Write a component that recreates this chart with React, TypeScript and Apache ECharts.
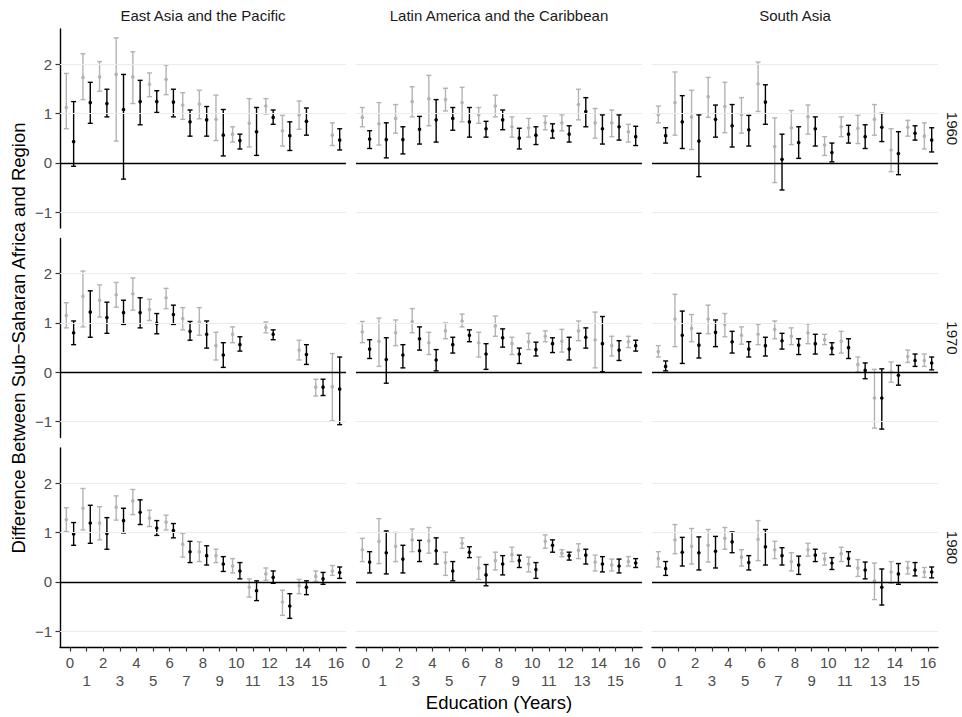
import React, { useEffect, useRef } from 'react';
import * as echarts from 'echarts';

type Est = [number, number, number] | null; // [estimate, lower, upper]

const educationYears = [0, 1, 2, 3, 4, 5, 6, 7, 8, 9, 10, 11, 12, 13, 14, 15, 16];
const regions = ['East Asia and the Pacific', 'Latin America and the Caribbean', 'South Asia'];
const cohorts = ['1960', '1970', '1980'];
const yTickValues = [-1, 0, 1, 2];
const gridLineValues = [-1, 1, 2];
const yAxisTitle = 'Difference Between Sub\u2212Saharan Africa and Region';
const xAxisTitle = 'Education (Years)';

// ---- 1960 ----
const eastAsia1960Grey: Est[] = [
  [1.12, 0.69, 1.81], [1.73, 1.28, 2.21], [1.74, 1.45, 2.05], [1.79, 0.44, 2.53], [1.74, 1.2, 2.25],
  [1.59, 1.34, 1.82], [1.69, 1.38, 1.98], [1.17, 0.88, 1.42], [1.19, 0.89, 1.47], [0.88, 0.45, 1.37],
  [0.58, 0.42, 0.73], [0.8, 0.32, 1.3], [1.15, 0.99, 1.3], [0.65, 0.34, 0.96], [0.97, 0.68, 1.25],
  null, [0.56, 0.35, 0.81],
];
const eastAsia1960Black: Est[] = [
  [0.43, -0.07, 1.24], [1.22, 0.8, 1.63], [1.2, 0.93, 1.49], [1.08, -0.33, 1.79], [1.24, 0.77, 1.67],
  [1.24, 1.02, 1.46], [1.23, 0.93, 1.49], [0.83, 0.54, 1.07], [0.87, 0.54, 1.14], [0.56, 0.14, 1.08],
  [0.45, 0.28, 0.58], [0.63, 0.15, 1.12], [0.92, 0.78, 1.07], [0.55, 0.25, 0.83], [0.84, 0.56, 1.11],
  null, [0.46, 0.26, 0.69],
];
const latinAmerica1960Grey: Est[] = [
  [0.92, 0.73, 1.12], [0.79, 0.36, 1.22], [0.9, 0.6, 1.18], [1.24, 0.93, 1.54], [1.3, 0.75, 1.77],
  [1.28, 1.05, 1.51], [1.22, 0.83, 1.53], [0.97, 0.8, 1.12], [1.15, 0.93, 1.37], [0.73, 0.52, 0.93],
  [0.71, 0.52, 0.9], [0.81, 0.67, 0.95], [0.81, 0.65, 0.97], [1.18, 0.87, 1.49], [0.81, 0.5, 1.1],
  [0.81, 0.53, 1.07], [0.63, 0.42, 0.78],
];
const latinAmerica1960Black: Est[] = [
  [0.48, 0.29, 0.65], [0.47, 0.1, 0.81], [0.47, 0.18, 0.73], [0.68, 0.38, 0.94], [0.87, 0.42, 1.28],
  [0.9, 0.66, 1.12], [0.83, 0.52, 1.12], [0.69, 0.52, 0.84], [0.87, 0.67, 1.07], [0.5, 0.28, 0.7],
  [0.56, 0.37, 0.73], [0.65, 0.5, 0.79], [0.58, 0.42, 0.75], [1.04, 0.73, 1.32], [0.69, 0.38, 0.97],
  [0.73, 0.46, 0.97], [0.53, 0.35, 0.74],
];
const southAsia1960Grey: Est[] = [
  [0.98, 0.81, 1.15], [1.22, 0.56, 1.84], [0.93, 0.27, 1.47], [1.34, 0.92, 1.73], [1.14, 0.61, 1.63],
  [0.98, 0.6, 1.32], [1.6, 1.04, 2.04], [0.33, -0.4, 0.91], [0.71, 0.37, 1.06], [0.93, 0.58, 1.17],
  [0.36, 0.15, 0.53], [0.73, 0.53, 0.93], [0.7, 0.39, 0.96], [0.88, 0.56, 1.18], [0.26, -0.18, 0.69],
  [0.72, 0.54, 0.86], [0.54, 0.28, 0.81],
];
const southAsia1960Black: Est[] = [
  [0.55, 0.4, 0.71], [0.83, 0.29, 1.36], [0.44, -0.28, 0.97], [0.88, 0.52, 1.17], [0.75, 0.32, 1.18],
  [0.67, 0.34, 0.96], [1.23, 0.78, 1.58], [0.07, -0.55, 0.58], [0.41, 0.09, 0.73], [0.69, 0.34, 0.93],
  [0.21, 0.02, 0.4], [0.58, 0.4, 0.76], [0.53, 0.29, 0.77], [0.72, 0.43, 1.0], [0.19, -0.24, 0.63],
  [0.6, 0.46, 0.75], [0.46, 0.22, 0.71],
];

// ---- 1970 ----
const eastAsia1970Grey: Est[] = [
  [1.15, 0.9, 1.41], [1.54, 0.92, 2.05], [1.46, 1.12, 1.77], [1.57, 1.32, 1.82], [1.59, 1.26, 1.91],
  [1.27, 1.05, 1.48], [1.51, 1.29, 1.7], [1.09, 0.86, 1.31], [1.02, 0.75, 1.31], [0.54, 0.25, 0.81],
  [0.77, 0.6, 0.92], null, [0.91, 0.8, 1.02], null, [0.45, 0.25, 0.65],
  [-0.3, -0.48, -0.14], [-0.29, -0.98, 0.38],
];
const eastAsia1970Black: Est[] = [
  [0.8, 0.56, 1.04], [1.22, 0.71, 1.65], [1.11, 0.79, 1.42], [1.21, 0.97, 1.46], [1.21, 0.9, 1.51],
  [0.99, 0.78, 1.19], [1.17, 0.97, 1.36], [0.83, 0.65, 1.03], [0.77, 0.49, 1.04], [0.35, 0.1, 0.6],
  [0.56, 0.43, 0.72], null, [0.77, 0.66, 0.86], null, [0.36, 0.16, 0.56],
  [-0.3, -0.47, -0.14], [-0.34, -1.06, 0.31],
];
const latinAmerica1970Grey: Est[] = [
  [0.82, 0.6, 1.03], [0.63, 0.12, 1.1], [0.8, 0.54, 1.06], [1.03, 0.8, 1.29], [0.6, 0.36, 0.81],
  [0.84, 0.68, 1.0], [1.04, 0.92, 1.18], [0.6, 0.31, 0.81], [0.94, 0.73, 1.14], [0.58, 0.36, 0.71],
  [0.62, 0.46, 0.79], [0.73, 0.62, 0.84], [0.63, 0.41, 0.87], [0.84, 0.64, 1.04], [0.66, 0.09, 1.22],
  [0.54, 0.33, 0.73], [0.62, 0.5, 0.73],
];
const latinAmerica1970Black: Est[] = [
  [0.47, 0.28, 0.66], [0.26, -0.22, 0.7], [0.35, 0.09, 0.56], [0.68, 0.45, 0.92], [0.25, 0.03, 0.46],
  [0.56, 0.39, 0.71], [0.75, 0.62, 0.86], [0.37, 0.06, 0.58], [0.7, 0.51, 0.88], [0.37, 0.18, 0.49],
  [0.46, 0.33, 0.61], [0.58, 0.4, 0.7], [0.47, 0.25, 0.71], [0.71, 0.49, 0.9], [0.58, 0.01, 1.13],
  [0.45, 0.24, 0.64], [0.54, 0.43, 0.65],
];
const southAsia1970Grey: Est[] = [
  [0.42, 0.31, 0.54], [1.08, 0.52, 1.58], [0.89, 0.62, 1.17], [1.08, 0.78, 1.36], [0.97, 0.72, 1.19],
  [0.75, 0.57, 0.92], [0.77, 0.56, 0.97], [0.87, 0.68, 1.04], [0.73, 0.56, 0.9], [0.8, 0.58, 0.98],
  [0.66, 0.56, 0.77], [0.63, 0.39, 0.83], [0.16, 0.01, 0.31], [-0.52, -1.13, 0.06], [0.01, -0.2, 0.21],
  [0.32, 0.2, 0.45], [0.24, 0.12, 0.37],
];
const southAsia1970Black: Est[] = [
  [0.12, 0.03, 0.23], [0.75, 0.18, 1.24], [0.55, 0.29, 0.79], [0.81, 0.52, 1.06], [0.62, 0.39, 0.83],
  [0.47, 0.31, 0.62], [0.54, 0.33, 0.71], [0.64, 0.47, 0.79], [0.55, 0.36, 0.68], [0.58, 0.37, 0.77],
  [0.49, 0.36, 0.6], [0.5, 0.28, 0.68], [0.04, -0.13, 0.19], [-0.52, -1.15, 0.07], [-0.06, -0.26, 0.14],
  [0.24, 0.12, 0.37], [0.19, 0.05, 0.31],
];

// ---- 1980 ----
const eastAsia1980Grey: Est[] = [
  [1.26, 1.02, 1.5], [1.49, 1.05, 1.89], [1.19, 0.85, 1.52], [1.51, 1.25, 1.74], [1.64, 1.36, 1.87],
  [1.29, 1.12, 1.45], [1.21, 1.05, 1.35], [0.76, 0.5, 0.98], [0.61, 0.41, 0.81], [0.53, 0.39, 0.66],
  [0.32, 0.18, 0.47], [-0.11, -0.31, 0.06], [0.16, 0.03, 0.28], [-0.41, -0.68, -0.17], [-0.08, -0.24, 0.05],
  [0.11, 0.01, 0.22], [0.22, 0.13, 0.33],
];
const eastAsia1980Black: Est[] = [
  [0.97, 0.74, 1.2], [1.19, 0.78, 1.55], [0.98, 0.66, 1.3], [1.24, 0.99, 1.49], [1.41, 1.16, 1.66],
  [1.09, 0.94, 1.24], [1.04, 0.89, 1.18], [0.61, 0.39, 0.82], [0.53, 0.34, 0.73], [0.36, 0.21, 0.51],
  [0.22, 0.06, 0.39], [-0.18, -0.38, 0.02], [0.09, -0.03, 0.22], [-0.49, -0.74, -0.24], [-0.11, -0.26, 0.02],
  [0.06, -0.05, 0.19], [0.19, 0.07, 0.3],
];
const latinAmerica1980Grey: Est[] = [
  [0.65, 0.41, 0.88], [0.82, 0.37, 1.28], [0.72, 0.41, 1.0], [0.85, 0.61, 1.07], [0.83, 0.58, 1.1],
  [0.39, 0.13, 0.6], [0.78, 0.68, 0.89], [0.28, 0.05, 0.5], [0.43, 0.24, 0.6], [0.55, 0.41, 0.7],
  [0.36, 0.2, 0.5], [0.82, 0.68, 0.95], [0.58, 0.51, 0.65], [0.64, 0.47, 0.77], [0.4, 0.22, 0.54],
  [0.34, 0.22, 0.46], [0.41, 0.32, 0.51],
];
const latinAmerica1980Black: Est[] = [
  [0.4, 0.18, 0.61], [0.59, 0.16, 1.03], [0.46, 0.18, 0.74], [0.63, 0.41, 0.84], [0.63, 0.36, 0.89],
  [0.22, 0.02, 0.41], [0.6, 0.49, 0.71], [0.14, -0.08, 0.35], [0.36, 0.14, 0.53], [0.43, 0.29, 0.54],
  [0.25, 0.07, 0.39], [0.74, 0.6, 0.85], [0.53, 0.44, 0.6], [0.54, 0.36, 0.66], [0.36, 0.2, 0.51],
  [0.32, 0.18, 0.46], [0.38, 0.29, 0.47],
];
const southAsia1980Grey: Est[] = [
  [0.47, 0.3, 0.61], [0.85, 0.57, 1.16], [0.72, 0.36, 1.08], [0.74, 0.4, 1.06], [0.88, 0.66, 1.1],
  [0.5, 0.32, 0.65], [0.86, 0.43, 1.24], [0.65, 0.47, 0.82], [0.41, 0.22, 0.59], [0.65, 0.52, 0.78],
  [0.46, 0.34, 0.58], [0.57, 0.41, 0.7], [0.28, 0.11, 0.45], [0.02, -0.36, 0.38], [0.2, -0.03, 0.41],
  [0.28, 0.16, 0.41], [0.2, 0.09, 0.29],
];
const southAsia1980Black: Est[] = [
  [0.27, 0.13, 0.41], [0.6, 0.32, 0.9], [0.59, 0.24, 0.91], [0.62, 0.28, 0.92], [0.81, 0.59, 1.01],
  [0.39, 0.24, 0.53], [0.71, 0.34, 1.06], [0.53, 0.34, 0.69], [0.34, 0.15, 0.52], [0.54, 0.41, 0.66],
  [0.38, 0.25, 0.49], [0.47, 0.32, 0.61], [0.24, 0.06, 0.4], [-0.11, -0.47, 0.26], [0.16, -0.05, 0.37],
  [0.24, 0.12, 0.39], [0.2, 0.08, 0.3],
];

const panelData: { grey: Est[]; black: Est[] }[][] = [
  [
    { grey: eastAsia1960Grey, black: eastAsia1960Black },
    { grey: latinAmerica1960Grey, black: latinAmerica1960Black },
    { grey: southAsia1960Grey, black: southAsia1960Black },
  ],
  [
    { grey: eastAsia1970Grey, black: eastAsia1970Black },
    { grey: latinAmerica1970Grey, black: latinAmerica1970Black },
    { grey: southAsia1970Grey, black: southAsia1970Black },
  ],
  [
    { grey: eastAsia1980Grey, black: eastAsia1980Black },
    { grey: latinAmerica1980Grey, black: latinAmerica1980Black },
    { grey: southAsia1980Grey, black: southAsia1980Black },
  ],
];

// layout
const COL_LEFT = [60, 356, 652];
const ROW_TOP = [29, 238.5, 448];
const PANEL_W = 286;
const PANEL_H = 199;
const X_MIN = -0.6;
const X_MAX = 16.6;
const Y_MIN = -1.32;
const Y_MAX = 2.71;
const DODGE = 0.22;
const CAP = 0.15;
const GREY = '#b3b3b3';
const BLACK = '#000000';
const FONT = '"Liberation Sans", Arial, Helvetica, sans-serif';

function toSeriesData(arr: Est[]) {
  const out: number[][] = [];
  educationYears.forEach((e, i) => {
    const v = arr[i];
    if (v) out.push([e, v[0], v[1], v[2]]);
  });
  return out;
}

function makeRender(dodge: number, color: string) {
  return (_params: any, api: any) => {
    const x = api.value(0) + dodge;
    const m = api.value(1);
    const lo = api.value(2);
    const hi = api.value(3);
    const pM = api.coord([x, m]);
    const pL = api.coord([x, lo]);
    const pH = api.coord([x, hi]);
    const cl = api.coord([x - CAP, hi])[0];
    const cr = api.coord([x + CAP, hi])[0];
    const style = { stroke: color, lineWidth: 1.4 };
    return {
      type: 'group',
      children: [
        { type: 'line', shape: { x1: pL[0], y1: pL[1], x2: pH[0], y2: pH[1] }, style },
        { type: 'line', shape: { x1: cl, y1: pH[1], x2: cr, y2: pH[1] }, style },
        { type: 'line', shape: { x1: cl, y1: pL[1], x2: cr, y2: pL[1] }, style },
        { type: 'circle', shape: { cx: pM[0], cy: pM[1], r: 1.8 }, style: { fill: color, stroke: null } },
      ],
    };
  };
}

function buildOption() {
  const grid: any[] = [];
  const xAxis: any[] = [];
  const yAxis: any[] = [];
  const series: any[] = [];
  for (let r = 0; r < 3; r++) {
    for (let c = 0; c < 3; c++) {
      const idx = r * 3 + c;
      const bottom = r === 2;
      const left = c === 0;
      grid.push({ left: COL_LEFT[c], top: ROW_TOP[r], width: PANEL_W, height: PANEL_H, containLabel: false });
      xAxis.push({
        type: 'value',
        gridIndex: idx,
        min: X_MIN,
        max: X_MAX,
        axisLine: { show: bottom, onZero: false, lineStyle: { color: '#000', width: 1.4 } },
        axisTick: {
          show: bottom,
          customValues: educationYears,
          length: 4.5,
          lineStyle: { color: '#333', width: 1.2 },
        },
        axisLabel: {
          show: bottom,
          customValues: educationYears,
          margin: 7,
          fontFamily: FONT,
          fontSize: 15,
          lineHeight: 17.5,
          color: '#4d4d4d',
          formatter: (v: number) => {
            const n = Math.round(v);
            return n % 2 === 1 ? '\n' + n : String(n);
          },
        },
        splitLine: { show: false },
      });
      yAxis.push({
        type: 'value',
        gridIndex: idx,
        min: Y_MIN,
        max: Y_MAX,
        axisLine: { show: left, onZero: false, lineStyle: { color: '#000', width: 1.4 } },
        axisTick: {
          show: left,
          customValues: yTickValues,
          length: 4.5,
          lineStyle: { color: '#333', width: 1.2 },
        },
        axisLabel: {
          show: left,
          customValues: yTickValues,
          margin: 8,
          fontFamily: FONT,
          fontSize: 15,
          color: '#4d4d4d',
          formatter: (v: number) => {
            const n = Math.round(v);
            return n < 0 ? '\u2212' + Math.abs(n) : String(n);
          },
        },
        splitLine: { show: false },
      });
      const p = panelData[r][c];
      series.push({
        type: 'custom',
        xAxisIndex: idx,
        yAxisIndex: idx,
        z: 2,
        silent: true,
        renderItem: makeRender(-DODGE, GREY),
        encode: { x: 0, y: [1, 2, 3] },
        data: toSeriesData(p.grey),
        markLine: {
          silent: true,
          symbol: 'none',
          label: { show: false },
          animation: false,
          data: [
            ...gridLineValues.map((v) => ({
              yAxis: v,
              lineStyle: { color: '#ebebeb', width: 1.2, type: 'solid' },
            })),
            { yAxis: 0, lineStyle: { color: '#000', width: 1.4, type: 'solid' } },
          ],
        },
      });
      series.push({
        type: 'custom',
        xAxisIndex: idx,
        yAxisIndex: idx,
        z: 3,
        silent: true,
        renderItem: makeRender(DODGE, BLACK),
        encode: { x: 0, y: [1, 2, 3] },
        data: toSeriesData(p.black),
      });
    }
  }

  const graphic: any[] = [];
  regions.forEach((name, c) => {
    graphic.push({
      type: 'text',
      x: COL_LEFT[c] + PANEL_W / 2,
      y: 15,
      style: {
        text: name,
        fontFamily: FONT,
        fontSize: 15,
        fill: '#1a1a1a',
        align: 'center',
        verticalAlign: 'middle',
      },
    });
  });
  cohorts.forEach((name, r) => {
    graphic.push({
      type: 'text',
      x: 952,
      y: ROW_TOP[r] + PANEL_H / 2,
      rotation: -Math.PI / 2,
      style: {
        text: name,
        fontFamily: FONT,
        fontSize: 15,
        fill: '#1a1a1a',
        align: 'center',
        verticalAlign: 'middle',
      },
    });
  });
  graphic.push({
    type: 'text',
    x: 18,
    y: (ROW_TOP[0] + ROW_TOP[2] + PANEL_H) / 2,
    rotation: Math.PI / 2,
    style: {
      text: yAxisTitle,
      fontFamily: FONT,
      fontSize: 18.5,
      fill: '#000',
      align: 'center',
      verticalAlign: 'middle',
    },
  });
  graphic.push({
    type: 'text',
    x: COL_LEFT[1] + PANEL_W / 2,
    y: 702,
    style: {
      text: xAxisTitle,
      fontFamily: FONT,
      fontSize: 18.5,
      fill: '#000',
      align: 'center',
      verticalAlign: 'middle',
    },
  });

  return {
    animation: false,
    backgroundColor: '#ffffff',
    textStyle: { fontFamily: FONT },
    grid,
    xAxis,
    yAxis,
    series,
    graphic,
  };
}

export default function App() {
  const ref = useRef<HTMLDivElement>(null);
  useEffect(() => {
    document.body.style.margin = '0';
    if (!ref.current) return;
    const chart = echarts.init(ref.current, undefined, { renderer: 'svg' });
    chart.setOption(buildOption() as any);
    return () => chart.dispose();
  }, []);
  return <div ref={ref} style={{ width: 962, height: 717 }} />;
}
